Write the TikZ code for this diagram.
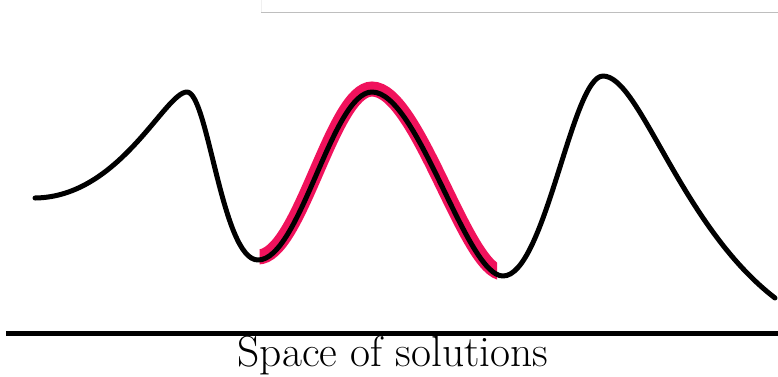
\documentclass[tikz,border=0pt]{standalone}
\definecolor{hipink}{RGB}{240,18,92}
\definecolor{toprule}{RGB}{190,190,190}
\begin{document}
\begin{tikzpicture}[x=1pt,y=-1pt,
  curve/.style={line width=5pt,black,line cap=round,line join=round},
  highlight/.style={line width=15pt,hipink},
  axisline/.style={line width=5pt,black}]
\useasboundingbox (0,0) rectangle (778,376);
% faint top rule
\draw[toprule,line width=1pt] (261,12) -- (778,12);
\draw[black!6,line width=1pt] (261,0) -- (261,12);
% pink highlighted part
\begin{scope}
\clip (259.5,0) rectangle (497,376);
\draw[highlight,yshift=3pt] (258,260) .. controls (300,260) and (332,92) .. (372,92)
   .. controls (418,92) and (466,276) .. (503,276);
\end{scope}
% the curve
\draw[curve] (35,198) .. controls (120,197) and (165,92) .. (187,92)
  .. controls (208,92) and (222,260) .. (258,260)
  .. controls (300,260) and (332,92) .. (372,92)
  .. controls (418,92) and (466,276) .. (503,276)
  .. controls (545,276) and (572,76) .. (603,76)
  .. controls (640,76) and (680,225) .. (775,298);
% axis
\coordinate (axl) at (6,333);
\coordinate (axr) at (778,333);
\draw[axisline] (axl) -- (axr);
\node[anchor=base,inner sep=0pt,font=\fontsize{43.5}{48}\selectfont] (lbl) at (393,366) {Space of solutions};
\end{tikzpicture}
\end{document}
